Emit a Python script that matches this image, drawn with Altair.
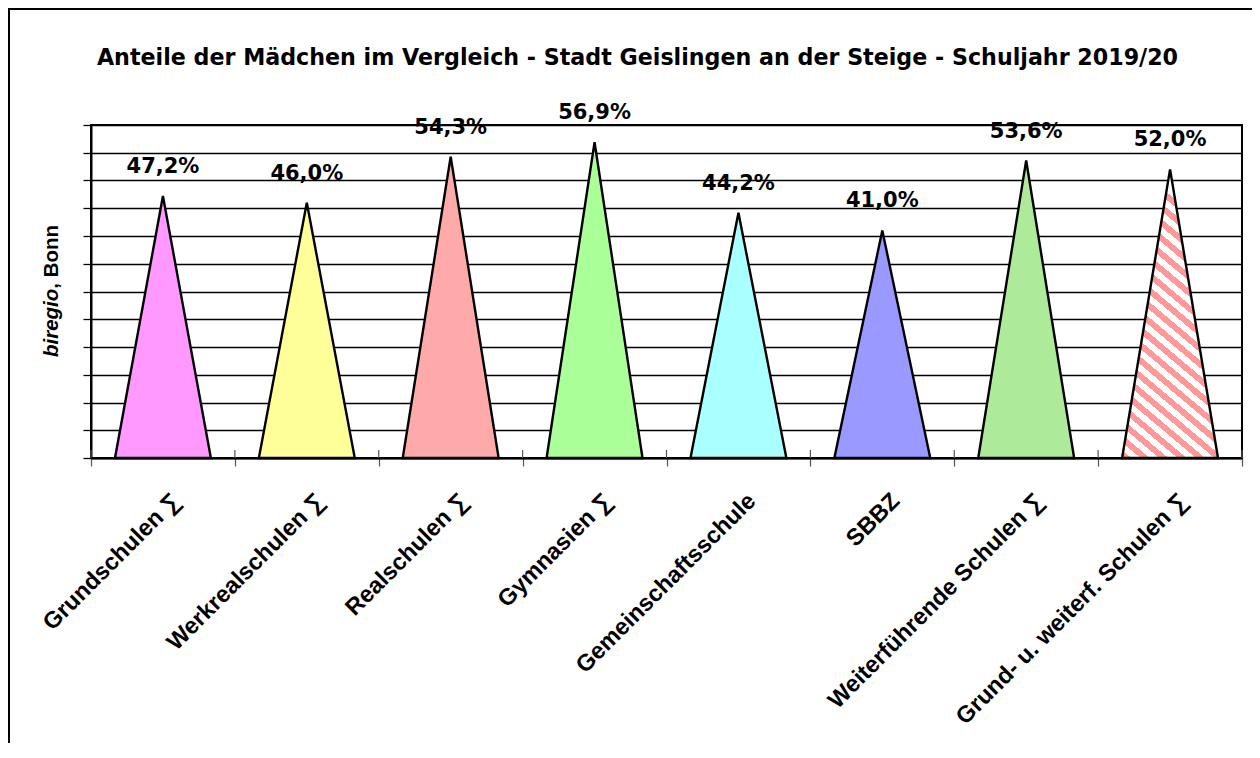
import json
import altair as alt
import pandas as pd

# ---------------- data ----------------
categories = [
    "Grundschulen ∑",
    "Werkrealschulen ∑",
    "Realschulen ∑",
    "Gymnasien ∑",
    "Gemeinschaftsschule",
    "SBBZ",
    "Weiterführende Schulen ∑",
    "Grund- u. weiterf. Schulen ∑",
]
shares = [47.2, 46.0, 54.3, 56.9, 44.2, 41.0, 53.6, 52.0]
fill_colors = ["#FF99FF", "#FFFF99", "#FFAAAA", "#AAFF99", "#AAFFFF", "#9999FF", "#ADEA99"]
stripe_color = "#FF9999"
y_ticks = list(range(0, 61, 5))
title_text = "Anteile der Mädchen im Vergleich - Stadt Geislingen an der Steige - Schuljahr 2019/20"
ytitle_italic = "biregio"
ytitle_rest = ", Bonn"

HALF = 1 / 3  # half of a triangle's base, in category units

rows = []
for i, (c, v) in enumerate(zip(categories, shares)):
    ctr = i + 0.5
    for k, (xo, yv) in enumerate([(ctr - HALF, 0.0), (ctr, v), (ctr + HALF, 0.0)]):
        rows.append({"cat": c, "idx": i, "x": xo, "y": yv, "k": k})
tri = pd.DataFrame(rows)

labels = pd.DataFrame({
    "cat": categories,
    "x": [i + 0.5 for i in range(len(categories))],
    "y": shares,
    "txt": [f"{v:.1f}%".replace(".", ",") for v in shares],
})
bounds = pd.DataFrame({"x": list(range(len(categories) + 1))})

label_expr = json.dumps(categories, ensure_ascii=False) + "[datum.value] || ''"
ARIAL = "Liberation Sans, Arial, Helvetica, sans-serif"

x_scale = alt.Scale(domain=[0, len(categories)], nice=False, zero=False)
x_enc = alt.X(
    "x:Q",
    scale=x_scale,
    axis=alt.Axis(
        values=list(range(len(categories) + 1)),
        labelExpr=label_expr,
        labelAngle=315,
        labelAlign="right",
        labelBaseline="middle",
        labelOffset=85,
        labelPadding=31,
        labelFont=ARIAL,
        labelFontWeight="bold",
        labelFontSize=23.5,
        labelColor="black",
        labelLimit=1000,
        labelOverlap=False,
        labelFlush=False,
        tickSize=8,
        tickColor="#555555",
        tickWidth=1.2,
        domainColor="black",
        domainWidth=2,
        grid=False,
        title=None,
    ),
)
y_enc = alt.Y(
    "y:Q",
    stack=None,
    scale=alt.Scale(domain=[0, 60], nice=False, zero=True),
    axis=alt.Axis(
        values=y_ticks,
        labels=False,
        tickSize=8,
        tickColor="black",
        tickWidth=1.3,
        grid=True,
        gridColor="black",
        gridWidth=1.3,
        gridOpacity=1,
        domainColor="black",
        domainWidth=2,
        title=None,
    ),
)

n_stripes = 20
stops = []
for k in range(n_stripes):
    a = k / n_stripes
    b = (k + 0.5) / n_stripes
    c = (k + 1) / n_stripes
    stops += [
        {"offset": a, "color": stripe_color},
        {"offset": b, "color": stripe_color},
        {"offset": b, "color": "#FFFFFF"},
        {"offset": c, "color": "#FFFFFF"},
    ]
stripe_fill = {"gradient": "linear", "x1": 0, "y1": 1, "x2": 0.28, "y2": 0, "stops": stops}

solid = alt.Chart(tri).transform_filter("datum.idx < 7").mark_area(
    stroke="black", strokeWidth=2.4, interpolate="linear", opacity=1, fillOpacity=1
).encode(
    x=x_enc,
    y=y_enc,
    color=alt.Color("cat:N", scale=alt.Scale(domain=categories[:7], range=fill_colors), legend=None),
)

striped = alt.Chart(tri).transform_filter("datum.idx == 7").mark_area(
    stroke="black", strokeWidth=2.4, interpolate="linear", fill=stripe_fill, fillOpacity=1
).encode(x=x_enc, y=y_enc)

# upper half of the category tick marks (they cross the axis line)
upper_ticks = alt.Chart(bounds).mark_rule(color="#555555", strokeWidth=1.2).encode(
    x=alt.X("x:Q", scale=x_scale), y=alt.value(325), y2=alt.value(333)
)

values_txt = alt.Chart(labels).mark_text(
    font="DejaVu Sans", fontWeight="bold", fontSize=21, dy=-29, baseline="middle", color="black"
).encode(x=x_enc, y=y_enc, text="txt:N")

title_layer = alt.Chart(pd.DataFrame({"t": [title_text]})).mark_text(
    font="DejaVu Sans", fontWeight="bold", fontSize=22.2, align="center", baseline="alphabetic", color="black"
).encode(x=alt.value(546.5), y=alt.value(-60), text="t:N")

ytitle_a = alt.Chart(pd.DataFrame({"t": [ytitle_italic]})).mark_text(
    font=ARIAL, fontWeight="bold", fontStyle="italic", fontSize=20.5,
    angle=270, align="left", baseline="alphabetic", color="black"
).encode(x=alt.value(-33), y=alt.value(232), text="t:N")

ytitle_b = alt.Chart(pd.DataFrame({"t": [ytitle_rest]})).mark_text(
    font=ARIAL, fontWeight="bold", fontSize=20.5,
    angle=270, align="left", baseline="alphabetic", color="black"
).encode(x=alt.value(-33), y=alt.value(163.7), text="t:N")

frame = alt.Chart(pd.DataFrame({"f": [1]})).mark_rect(
    fill="transparent", stroke="black", strokeWidth=2
).encode(x=alt.value(-82), x2=alt.value(1400), y=alt.value(-116), y2=alt.value(900))

chart = alt.layer(
    frame, solid, striped, upper_ticks, values_txt, title_layer, ytitle_a, ytitle_b
).properties(
    width=1151,
    height=333,
    autosize=alt.AutoSizeParams(type="none"),
    padding={"left": 83, "top": 117, "right": 10, "bottom": 285},
    background="white",
).configure_view(
    stroke="black", strokeWidth=2
)

chart.save("out.html", embed_options={"renderer": "svg", "actions": False})
